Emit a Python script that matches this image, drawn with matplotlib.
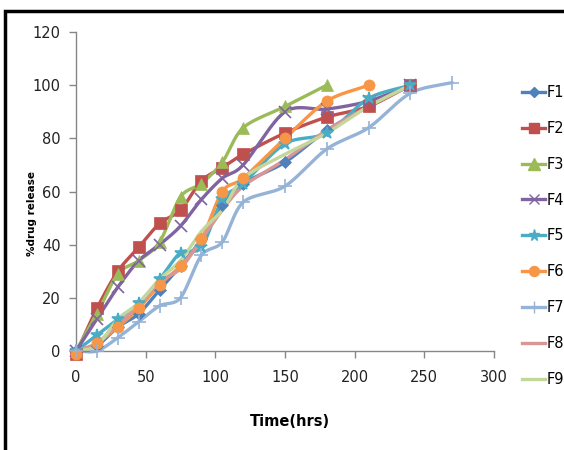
import numpy as np
import matplotlib
matplotlib.use("Agg")
import matplotlib.pyplot as plt
from matplotlib.patches import Rectangle
from matplotlib.lines import Line2D

time = [0, 15, 30, 45, 60, 75, 90, 105, 120, 150, 180, 210, 240, 270]
F1 = [0, 2, 9, 14, 23, 32, 42, 55, 63, 71, 83, 92, 100]
F2 = [-1, 16, 30, 39, 48, 53, 64, 69, 74, 82, 88, 92, 100]
F3 = [0, 14, 29, 34, 41, 58, 63, 71, 84, 92, 100]
F4 = [0, 12, 24, 34, 40, 47, 57, 65, 70, 90, 91, 94, 100]
F5 = [0, 6, 12, 18, 27, 37, 39, 57, 63, 78, 82, 95, 100]
F6 = [-1, 3, 9, 16, 25, 32, 42, 60, 65, 80, 94, 100]
F7 = [0, 0, 5, 11, 17, 20, 36, 41, 56, 62, 76, 84, 97, 101]
F8 = [0, 3, 10, 17, 26, 31, 42, 53, 62, 72, 83, 92, 100]
F9 = [0, 2, 12, 18, 27, 34, 45, 53, 65, 74, 82, 92, 100]

labels = ["F1", "F2", "F3", "F4", "F5", "F6", "F7", "F8", "F9"]
series = [F1, F2, F3, F4, F5, F6, F7, F8, F9]
colors = ["#4F81BD", "#C0504D", "#9BBB59", "#8064A2", "#4BACC6",
          "#F79646", "#95B3D7", "#D99694", "#C3D69B"]
markers = ["D", "s", "^", "x", "*", "o", "+", None, None]
msizes = [6, 8, 9, 8, 9, 8, 10, 0, 0]

narrow = ["Liberation Sans Narrow", "DejaVu Sans"]


def smooth(x, y, n=20):
    x = np.asarray(x, float)
    y = np.asarray(y, float)
    sx, sy = 300.0, 120.0
    px = np.concatenate([[2 * x[0] - x[1]], x, [2 * x[-1] - x[-2]]]) / sx
    py = np.concatenate([[2 * y[0] - y[1]], y, [2 * y[-1] - y[-2]]]) / sy
    ox, oy = [], []
    for i in range(1, len(px) - 2):
        t = np.linspace(0, 1, n, endpoint=False)
        for arr, out in ((px, ox), (py, oy)):
            p0, p1, p2, p3 = arr[i - 1], arr[i], arr[i + 1], arr[i + 2]
            m1 = (p2 - p0) / 2 * 0.9
            m2 = (p3 - p1) / 2 * 0.9
            h00 = 2 * t**3 - 3 * t**2 + 1
            h10 = t**3 - 2 * t**2 + t
            h01 = -2 * t**3 + 3 * t**2
            h11 = t**3 - t**2
            out.extend(h00 * p1 + h10 * m1 + h01 * p2 + h11 * m2)
    ox.append(px[-2])
    oy.append(py[-2])
    return np.array(ox) * sx, np.array(oy) * sy


fig = plt.figure(figsize=(5.64, 4.5), dpi=100)
ax = fig.add_axes([76 / 564, 1 - 351 / 450, 418 / 564, 319 / 450])

handles = []
for lab, ys, c, m, ms in zip(labels, series, colors, markers, msizes):
    xs = time[:len(ys)]
    sx_, sy_ = smooth(xs, ys)
    ax.plot(sx_, sy_, color=c, lw=2.4, solid_capstyle="round", clip_on=False, zorder=2)
    if m is not None:
        ax.plot(xs, ys, linestyle="none", marker=m, color=c, markersize=ms,
                markeredgewidth=1.2 if m in ("x", "+", "*") else 0.5,
                clip_on=False, zorder=3)
    handles.append(Line2D([0], [0], color=c, lw=2.4, marker=m, markersize=ms * 0.9,
                          markeredgewidth=1.0))

ax.set_xlim(0, 300)
ax.set_ylim(0, 120)
ax.set_xticks(range(0, 301, 50))
ax.set_yticks(range(0, 121, 20))
for s in ("top", "right"):
    ax.spines[s].set_visible(False)
for s in ("left", "bottom"):
    ax.spines[s].set_color("#868686")
    ax.spines[s].set_linewidth(1.0)
ax.tick_params(direction="out", length=5, color="#868686", width=1, pad=6)
for t in ax.get_xticklabels() + ax.get_yticklabels():
    t.set_fontfamily(narrow)
    t.set_fontsize(10.5)
    t.set_color("#222222")
ax.tick_params(axis="x", pad=9)

fig.text(32 / 564, 1 - 213 / 450, "%drug release", rotation=90, ha="center", va="center",
         fontsize=7.5, fontweight="bold", family=["DejaVu Sans"])
fig.text(290 / 564, 1 - 422 / 450, "Time(hrs)", ha="center", va="center",
         fontsize=10.5, fontweight="bold", family=narrow)

leg = fig.legend(handles, labels, loc="upper left", bbox_to_anchor=(522 / 564, 1 - 85 / 450),
                 frameon=False, handlelength=1.6, handletextpad=0.1, labelspacing=1.43,
                 borderaxespad=0, borderpad=0,
                 prop={"family": narrow, "size": 10.5})

fig.patches.append(Rectangle((5 / 564, -0.1), 1.2, 1 - 11 / 450 + 0.1, transform=fig.transFigure,
                             fill=False, edgecolor="black", linewidth=2.5, zorder=10))

fig.savefig("out.png", dpi=100)
